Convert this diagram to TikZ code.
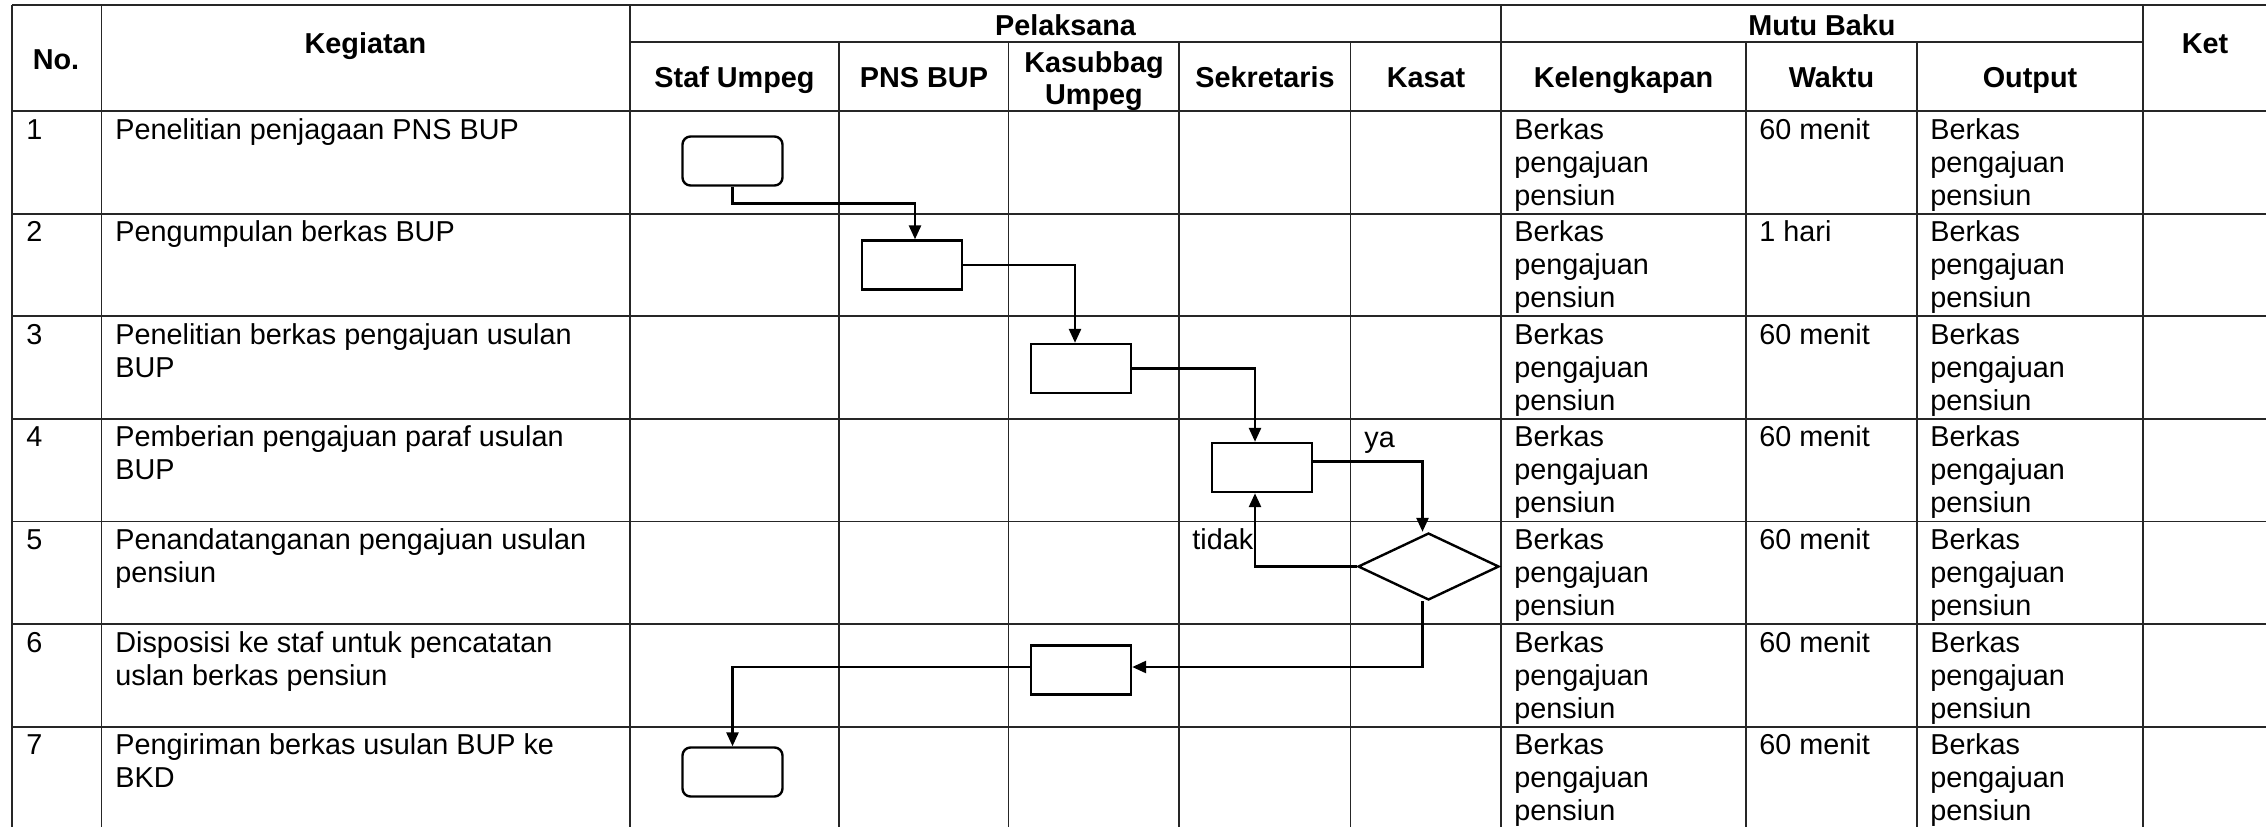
\documentclass[tikz,border=0pt]{standalone}
\usepackage{fontspec}
\setmainfont{Liberation Sans}
\usetikzlibrary{arrows.meta,shapes.geometric}
% multi-line cell text, aligned on the baseline of its first line
\newcommand{\cellstack}[1]{\begin{tabular}[t]{@{}l@{}}#1\end{tabular}}

\begin{document}
\begin{tikzpicture}[x=0.5pt,y=-0.5pt,
  grid/.style={line width=0.9pt,draw=black!85},
  head/.style={font=\fontsize{14.4}{16}\selectfont\bfseries,anchor=base,inner sep=0},
  body/.style={font=\fontsize{14.4}{16.5}\selectfont,anchor=base west,inner sep=0},
  procbox/.style={draw,line width=1.2pt,minimum width=50pt,minimum height=24.5pt,inner sep=0},
  termbox/.style={procbox,rounded corners=4pt},
  decision/.style={draw,diamond,line width=1.2pt,minimum width=70.5pt,minimum height=33.5pt,inner sep=0},
  flow/.style={line width=1.3pt,-{Triangle[length=7pt,width=6pt]}}]

\useasboundingbox (0,0) rectangle (2266,827);
\fill[white] (0,0) rectangle (2266,827);

% ---- table rules ----
\draw[grid] (12,5) -- (2266,5);
\draw[grid] (630,42) -- (2143,42);
\foreach \y in {111,213.6,316.2,418.8,521.4,624,726.6}
  \draw[grid] (12,\y) -- (2266,\y);
\foreach \x in {12,101.5,630,1501,2143}
  \draw[grid] (\x,5) -- (\x,827);
\foreach \x in {839,1008.5,1179,1350.5,1746,1917}
  \draw[grid] (\x,42) -- (\x,827);

% ---- header ----
\node[head] (hNo)   at (56,69)     {No.};
\node[head] (hKeg)  at (365.5,53)  {Kegiatan};
\node[head] (hPel)  at (1065.5,35) {Pelaksana};
\node[head] (hMutu) at (1822,35)   {Mutu Baku};
\node[head] (hKet)  at (2205,53)   {Ket};
\node[head] (hStaf) at (734.5,87)  {Staf Umpeg};
\node[head] (hPns)  at (924,87)    {PNS BUP};
\node[head] (hKasA) at (1094,72)   {Kasubbag};
\node[head] (hKasB) at (1094,104)  {Umpeg};
\node[head] (hSek)  at (1265,87)   {Sekretaris};
\node[head] (hKst)  at (1426,87)   {Kasat};
\node[head] (hKel)  at (1623.5,87) {Kelengkapan};
\node[head] (hWkt)  at (1831.5,87) {Waktu};
\node[head] (hOut)  at (2030,87)   {Output};

% ---- rows ----
\foreach \i/\t/\w in {1/111/60 menit,2/213.6/1 hari,3/316.2/60 menit,4/418.8/60 menit,
                      5/521.4/60 menit,6/624/60 menit,7/726.6/60 menit}{
  \node[body] (no\i)  at (26,\t+28)   {\i};
  \node[body] (kel\i) at (1514,\t+28) {\cellstack{Berkas\\pengajuan\\pensiun}};
  \node[body] (wkt\i) at (1759,\t+28) {\w};
  \node[body] (out\i) at (1930,\t+28) {\cellstack{Berkas\\pengajuan\\pensiun}};
}
\node[body] (keg1) at (115,139)   {Penelitian penjagaan PNS BUP};
\node[body] (keg2) at (115,241.6) {Pengumpulan berkas BUP};
\node[body] (keg3) at (115,344.2) {\cellstack{Penelitian berkas pengajuan usulan\\BUP}};
\node[body] (keg4) at (115,446.8) {\cellstack{Pemberian pengajuan paraf usulan\\BUP}};
\node[body] (keg5) at (115,549.4) {\cellstack{Penandatanganan pengajuan usulan\\pensiun}};
\node[body] (keg6) at (115,652)   {\cellstack{Disposisi ke staf untuk pencatatan\\uslan berkas pensiun}};
\node[body] (keg7) at (115,754.6) {\cellstack{Pengiriman berkas usulan BUP ke\\BKD}};

% ---- flow symbols ----
\node[termbox] (rr1) at (732.5,161)   {};
\node[procbox] (r2)  at (912,265)     {};
\node[procbox] (r3)  at (1081,368.5)  {};
\node[procbox] (r4)  at (1262,467.5)  {};
\node[decision] (d5) at (1428.5,566.5) {};
\node[procbox] (r6)  at (1081,670)    {};
\node[termbox] (rr7) at (732.5,772)   {};

\node[body] (ya)    at (1364,447) {ya};
\node[body] (tidak) at (1192,549) {tidak};

% ---- connectors ----
\draw[flow] (rr1.south) -- ++(0,17) -| ([xshift=1.5pt]r2.north);
\draw[flow] (r2.east) -| ([xshift=-3pt]r3.north);
\draw[flow] (r3.east) -| ([xshift=-3.5pt]r4.north);
\draw[flow] ([yshift=3pt]r4.east) -| ([xshift=-3pt]d5.north);
\draw[flow] (d5.west) -| ([xshift=-3.5pt]r4.south);
\draw[flow] ([xshift=-3pt]d5.south) |- ([yshift=1.5pt]r6.east);
\draw[flow] ([yshift=1.5pt]r6.west) -| (rr7.north);
\end{tikzpicture}
\end{document}
